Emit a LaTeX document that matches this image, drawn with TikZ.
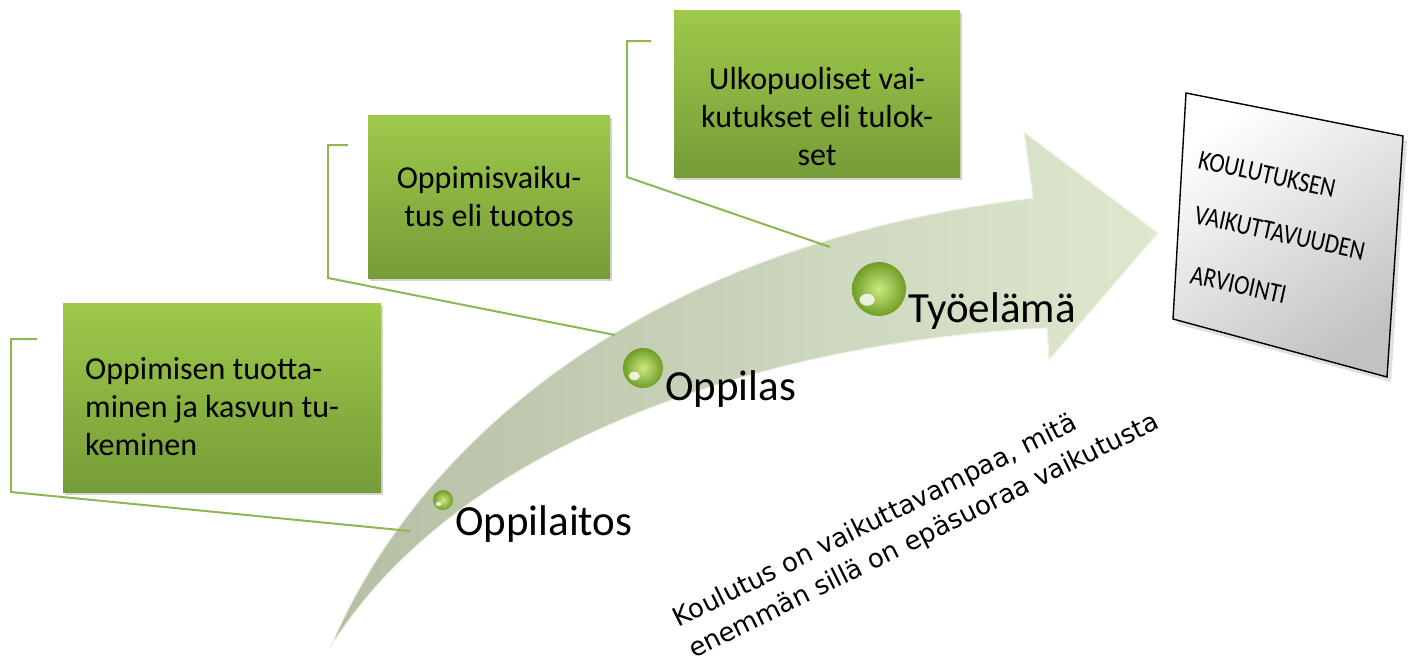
\documentclass[tikz,border=0pt]{standalone}
\usepackage{fontspec}
\setmainfont{Carlito}
\newfontfamily\dejavu{DejaVu Sans}
\usetikzlibrary{shadows,calc}
\definecolor{gtop}{RGB}{158,201,74}
\definecolor{gbot}{RGB}{117,156,55}
\definecolor{bline}{RGB}{141,183,82}
\definecolor{atail}{RGB}{180,191,164}
\definecolor{ahead}{RGB}{222,232,207}
\definecolor{ballin}{RGB}{205,232,130}
\definecolor{ballout}{RGB}{110,158,38}
\begin{document}
\begin{tikzpicture}[x=1pt,y=-1pt,
  gbox/.style={rectangle, inner sep=0pt, top color=gtop, bottom color=gbot, draw=none,
    drop shadow={shadow xshift=2pt, shadow yshift=-3pt, opacity=0.35}},
  gtext/.style={font=\fontsize{32}{38}\selectfont, inner sep=0pt, text=black},
  lbl/.style={font=\fontsize{43}{50}\selectfont, inner sep=0pt, anchor=base west},
  bracket/.style={draw=bline, line width=2pt},
  bead/.style={circle, inner sep=0pt, minimum size=#1pt,
    inner color=ballin, outer color=ballout,
    path picture={\fill[white, opacity=0.8]
      ($(path picture bounding box.center)+(-0.22*#1,0.2*#1)$)
      circle[x radius=0.14*#1, y radius=0.11*#1];}},
  btxt/.style={font=\fontsize{23}{27}\selectfont, inner sep=0pt, anchor=base west, rotate=-12.5, yscale=1.2},
  note/.style={font=\dejavu\fontsize{26}{35}\selectfont, inner sep=0pt, anchor=base west, rotate=26.4, align=left},
]
\useasboundingbox (0,0) rectangle (1410,662);

% curved arrow
\path[left color=atail, right color=ahead, draw=white!55!ahead, line width=1.2pt]
  (330,648) .. controls (400,480) and (600,250) .. (1033,198)
  -- (1024,132) -- (1158,233) -- (1049,360) -- (1047,328)
  .. controls (800,340) and (470,425) .. (330,648) -- cycle;

% points on the arrow
\coordinate (p1) at (410,531);
\coordinate (p2) at (615,335);
\coordinate (p3) at (830,247);

% green boxes
\node[gbox, minimum width=318pt, minimum height=189pt, anchor=north west] (b1) at (63,303) {};
\node[gbox, minimum width=242pt, minimum height=163pt, anchor=north west] (b2) at (368,115) {};
\node[gbox, minimum width=286pt, minimum height=167pt, anchor=north west] (b3) at (674,10) {};

% (base anchor of a multi-line node = baseline of its last line)
\node[gtext, align=left, anchor=base west] (t1) at (85,455) {Oppimisen tuotta-\\minen ja kasvun tu-\\keminen};
\node[gtext, align=center, anchor=base] (t2) at (489,226) {Oppimisvaiku-\\tus eli tuotos};
\node[gtext, align=center, anchor=base] (t3) at (817,165) {Ulkopuoliset vai-\\kutukset eli tulok-\\set};

% brackets
\coordinate (a1) at (37,339);  \coordinate (a1c) at (11,339);  \coordinate (a1d) at (11,492);
\coordinate (a2) at (348,145); \coordinate (a2c) at (328,145); \coordinate (a2d) at (328,278);
\coordinate (a3) at (651,41);  \coordinate (a3c) at (627,41);  \coordinate (a3d) at (627,177);
\draw[bracket] (a1) -- (a1c) -- (a1d) -- (p1);
\draw[bracket] (a2) -- (a2c) -- (a2d) -- (p2);
\draw[bracket] (a3) -- (a3c) -- (a3d) -- (p3);

% beads
\node[bead=20] (c1) at (443,500) {};
\node[bead=40] (c2) at (643,368) {};
\node[bead=54] (c3) at (879,289) {};

% stage labels
\node[lbl] (l1) at (455,535) {Oppilaitos};
\node[lbl] (l2) at (665,400) {Oppilas};
\node[lbl] (l3) at (908,322) {Työelämä};

% evaluation box
\coordinate (r1) at (1186,93);
\coordinate (r2) at (1403,136);
\coordinate (r3) at (1387,377);
\coordinate (r4) at (1173,319);
\fill[black, opacity=0.12] ([shift={(4,5)}]r1) -- ([shift={(4,5)}]r2) -- ([shift={(4,5)}]r3) -- ([shift={(4,5)}]r4) -- cycle;
\path[draw=black, line width=1.4pt, top color=white, bottom color=black!24, shading angle=35]
  (r1) -- (r2) -- (r3) -- (r4) -- cycle;
\node[btxt] (k1) at (1197,168) {KOULUTUKSEN};
\node[btxt] (k2) at (1193,223) {VAIKUTTAVUUDEN};
\node[btxt] (k3) at (1189,283) {ARVIOINTI};

% rotated note
\node[note] (n1) at (694,659) {Koulutus on vaikuttavampaa, mitä\\enemmän sillä on epäsuoraa vaikutusta};
\end{tikzpicture}
\end{document}
